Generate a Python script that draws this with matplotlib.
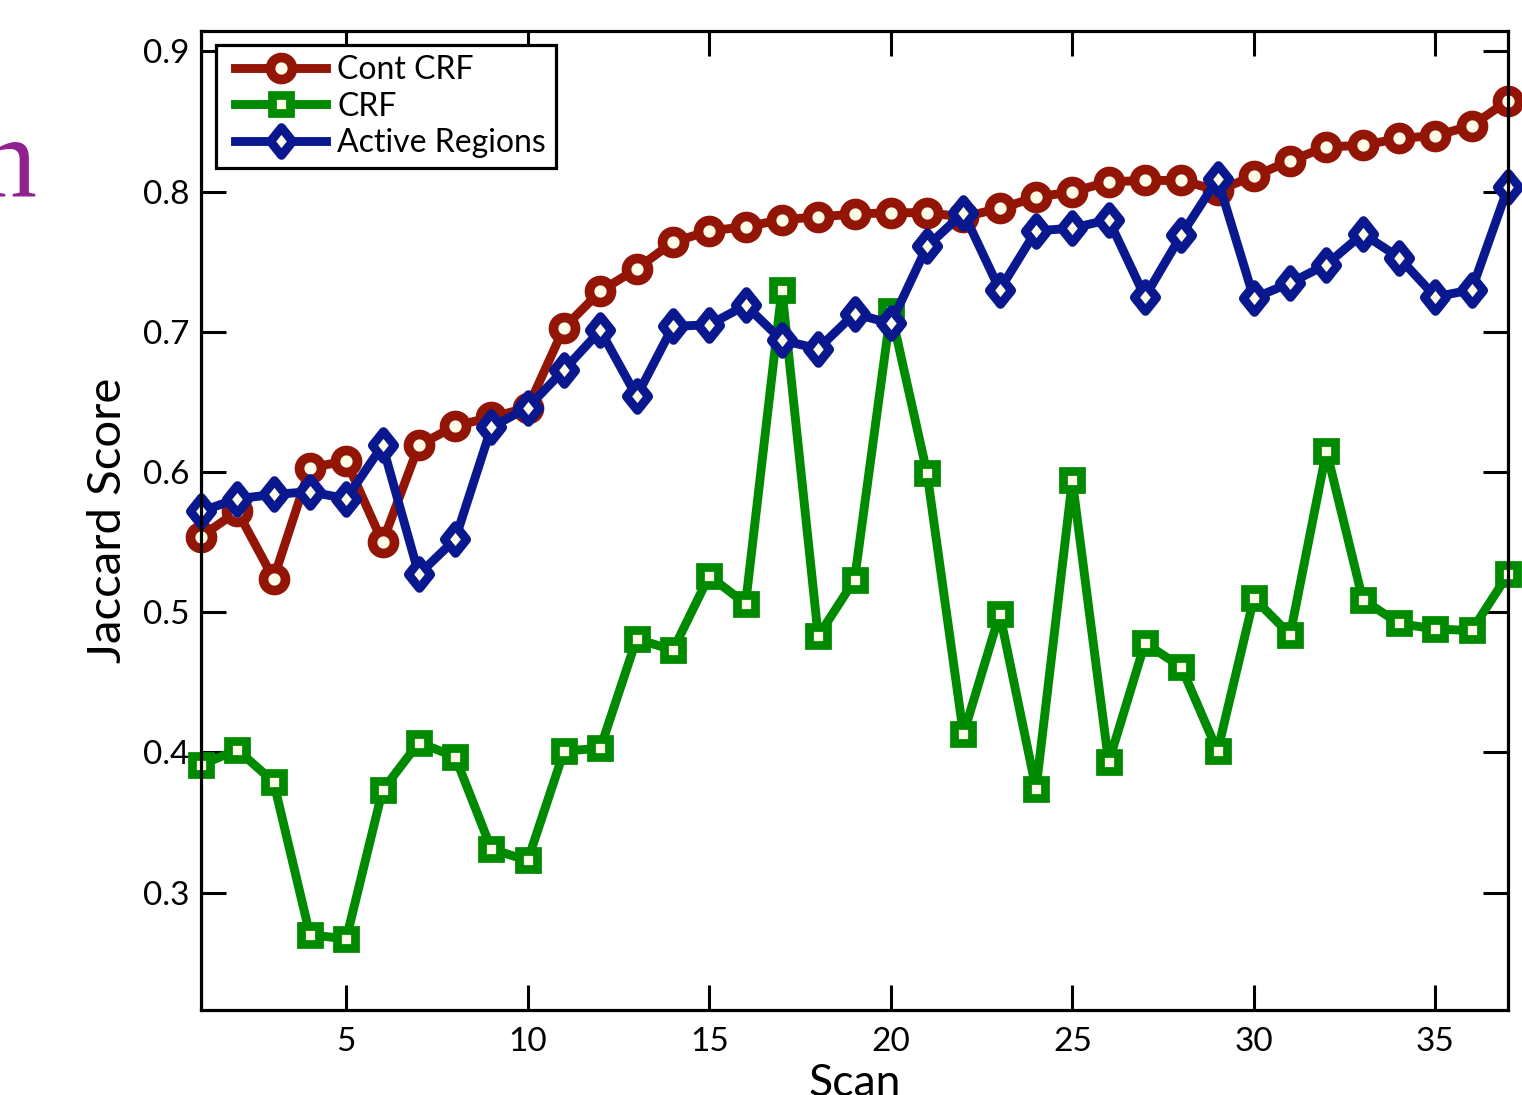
import numpy as np
import matplotlib
matplotlib.use("Agg")
import matplotlib.pyplot as plt
from matplotlib.path import Path
from matplotlib.markers import MarkerStyle
from matplotlib.legend_handler import HandlerLine2D
from matplotlib.lines import Line2D

# ---------------- data ----------------
scans = list(range(1, 38))

cont_crf = [0.554, 0.572, 0.524, 0.603, 0.608, 0.550, 0.619, 0.633, 0.639, 0.646,
            0.703, 0.729, 0.745, 0.764, 0.772, 0.775, 0.780, 0.782, 0.784, 0.785,
            0.785, 0.782, 0.788, 0.796, 0.800, 0.807, 0.808, 0.808, 0.801, 0.811,
            0.822, 0.832, 0.833, 0.838, 0.840, 0.847, 0.865]

crf = [0.391, 0.402, 0.379, 0.270, 0.267, 0.373, 0.407, 0.397, 0.331, 0.323,
       0.401, 0.403, 0.481, 0.473, 0.526, 0.506, 0.730, 0.483, 0.523, 0.715,
       0.599, 0.413, 0.499, 0.374, 0.594, 0.393, 0.478, 0.461, 0.401, 0.510,
       0.484, 0.615, 0.509, 0.492, 0.488, 0.487, 0.527]

active_regions = [0.572, 0.581, 0.584, 0.586, 0.581, 0.619, 0.527, 0.552, 0.632, 0.646,
                  0.673, 0.701, 0.654, 0.704, 0.705, 0.719, 0.694, 0.688, 0.713, 0.706,
                  0.761, 0.785, 0.730, 0.772, 0.774, 0.780, 0.725, 0.769, 0.809, 0.724,
                  0.735, 0.748, 0.770, 0.753, 0.725, 0.730, 0.803]

series_labels = ["Cont CRF", "CRF", "Active Regions"]
x_ticks = [5, 10, 15, 20, 25, 30, 35]
y_ticks = [0.3, 0.4, 0.5, 0.6, 0.7, 0.8, 0.9]
x_label = "Scan"
y_label = "Jaccard Score"

# ---------------- style ----------------
FONT = "Lato"
plt.rcParams["font.family"] = [FONT, "DejaVu Sans"]

RED = "#931505"
GREEN = "#008a00"
BLUE = "#0a1890"
FACE = "#fffde8"

fig = plt.figure(figsize=(15.22, 10.95), dpi=100)
ax = fig.add_axes([201 / 1522, (1095 - 1010) / 1095, (1508 - 201) / 1522, (1010 - 31) / 1095])

diamond_path = Path([(0, 1), (0.8, 0), (0, -1), (-0.8, 0), (0, 1)],
                    [Path.MOVETO, Path.LINETO, Path.LINETO, Path.LINETO, Path.CLOSEPOLY])
diamond = MarkerStyle(diamond_path, joinstyle="miter")

lw = 6.4
l1, = ax.plot(scans, cont_crf, color=RED, lw=lw, marker="o", ms=15.8, mew=7.0,
              mfc=FACE, mec=RED, label=series_labels[0], solid_joinstyle="round")
l2, = ax.plot(scans, crf, color=GREEN, lw=lw, marker="s", ms=13.4, mew=6.3,
              mfc=FACE, mec=GREEN, label=series_labels[1], solid_joinstyle="round")
l3, = ax.plot(scans, active_regions, color=BLUE, lw=lw, marker=diamond, ms=19.9, mew=6.5,
              mfc=FACE, mec=BLUE, label=series_labels[2], solid_joinstyle="round")

for l in (l1, l2, l3):
    l.set_clip_on(False)

ax.set_xlim(1, 37)
ax.set_ylim(0.2163, 0.9146)
ax.set_xticks(x_ticks)
ax.set_yticks(y_ticks)
ax.set_xticklabels([str(t) for t in x_ticks])
ax.set_yticklabels([f"{t:.1f}" for t in y_ticks])

for s in ax.spines.values():
    s.set_linewidth(2.3)
    s.set_color("black")

ax.tick_params(axis="both", which="major", direction="in", length=18, width=2.2,
               labelsize=24, top=True, right=True, colors="black")
ax.tick_params(axis="x", pad=12)
ax.tick_params(axis="y", pad=8)

ax.set_xlabel(x_label, fontsize=32)
ax.set_ylabel(y_label, fontsize=34)
ax.xaxis.set_label_coords(0.5, -0.054)
ax.yaxis.set_label_coords(-0.055, 0.5)

fs = 23
leg = ax.legend(handles=[l1, l2, l3], loc="upper left",
                bbox_to_anchor=((216 - 201) / 1307, (1010 - 45) / 979),
                borderaxespad=0, fontsize=fs, frameon=True, fancybox=False,
                framealpha=1, edgecolor="black", borderpad=0.32,
                labelspacing=0.2, handlelength=3.13, handletextpad=0.35,
                numpoints=1, handler_map={Line2D: HandlerLine2D(xpad=0.28)})
leg.get_frame().set_linewidth(2.3)
leg.set_zorder(10)

# fragment of neighbouring slide text at the left edge
fig.text(36 / 1522, (1095 - 195) / 1095, "n", ha="right", va="baseline",
         fontsize=82, color="#922190", family=["Liberation Serif", "DejaVu Serif"])

fig.savefig("out.png", dpi=100)
